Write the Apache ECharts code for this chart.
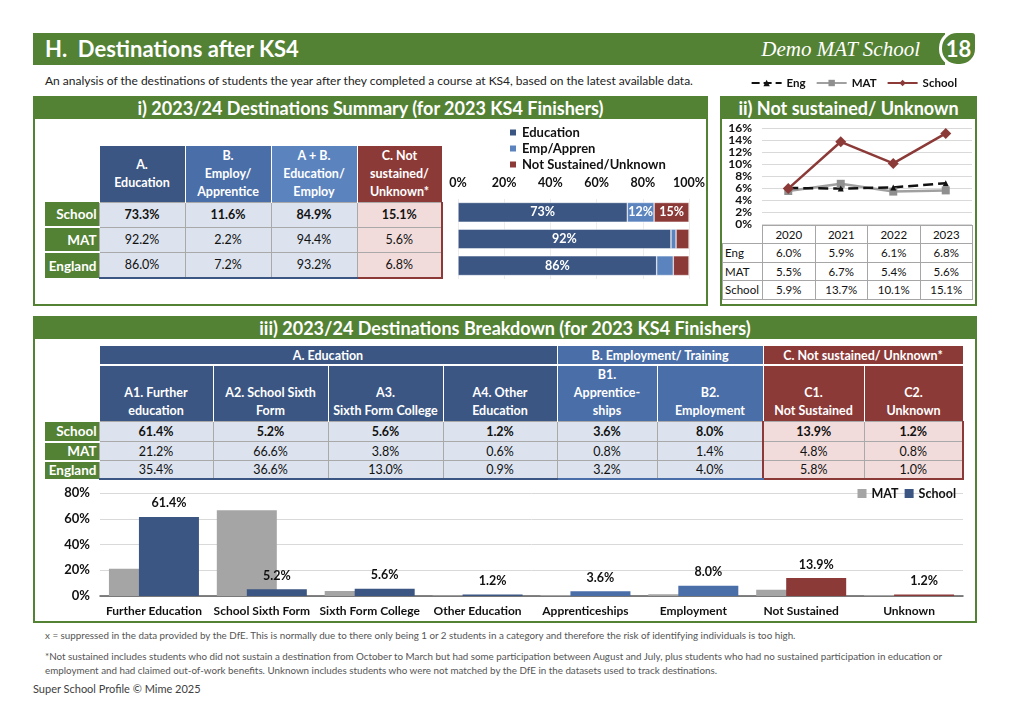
<!DOCTYPE html>
<html>
<head>
<meta charset="utf-8">
<title>Destinations after KS4</title>
<script src="https://cdn.jsdelivr.net/npm/echarts@6.0.0/dist/echarts.min.js"></script>
<style>
  body { margin:0; width:1012px; height:714px; position:relative; overflow:hidden; background:#fff; font-family:Lato, "Open Sans", sans-serif; color:#111; }
  .abs { position:absolute; }
  .banner { left:33px; top:33px; width:912px; height:32px; background:#548235; }
  .banner .t { position:absolute; left:12px; top:0; line-height:32px; color:#fff; font-weight:bold; font-size:22px; white-space:pre; }
  .banner .s { position:absolute; right:25px; top:0; line-height:32px; color:#fff; font-family:"Liberation Serif", serif; font-style:italic; font-size:21px; }
  .badge { left:939px; top:30px; width:33px; height:31px; border:3px solid #fff; background:#548235; border-radius:18px 6px 18px 18px; color:#fff; font-weight:bold; font-size:22px; text-align:center; line-height:31px; }
  .sub { left:45px; top:73px; font-size:12px; color:#222; white-space:nowrap; }
  .panel { position:absolute; box-sizing:border-box; border:2px solid #548235; background:#fff; }
  .ptitle { height:21px; background:#548235; color:#fff; font-weight:bold; font-size:18px; text-align:center; line-height:20px; white-space:nowrap; }
  table.tbl { position:absolute; border-collapse:collapse; table-layout:fixed; }
  table.tbl td { padding:0; text-align:center; overflow:hidden; white-space:nowrap; }
  td.hd { color:#fff; font-weight:bold; font-size:12.5px; line-height:18px; border-left:1px solid #fff; border-right:1px solid #fff; }
  td.lab { background:#548235; color:#fff; font-weight:bold; font-size:13.5px; text-align:right !important; padding-right:2px !important; border-top:2px solid #fff; }
  td.dat { font-size:12.5px; border:1.5px solid #a9a9a9; }
  td.bold { font-weight:bold; }
  table.trend td { border:1px solid #a6a6a6; font-size:11.5px; color:#111; }
  .note { left:45px; font-size:9.8px; color:#555; white-space:nowrap; }
</style>
</head>
<body>

<div class="abs banner"><span class="t">H.  Destinations after KS4</span><span class="s">Demo MAT School</span></div>
<div class="abs badge">18</div>
<div class="abs sub">An analysis of the destinations of students the year after they completed a course at KS4, based on the latest available data.</div>

<div class="panel" style="left:33px;top:96px;width:675px;height:210px"><div class="ptitle">i) 2023/24 Destinations Summary (for 2023 KS4 Finishers)</div></div>
<div class="panel" style="left:720px;top:96px;width:257px;height:210px"><div class="ptitle">ii) Not sustained/ Unknown</div></div>
<div class="panel" style="left:33px;top:316px;width:944px;height:307px"><div class="ptitle">iii) 2023/24 Destinations Breakdown (for 2023 KS4 Finishers)</div></div>

<div id="summaryTable"></div>
<div id="trendTable"></div>
<div id="breakdownTable"></div>

<div id="stack" class="abs" style="left:445px;top:120px;width:263px;height:170px"></div>
<div id="trend" class="abs" style="left:720px;top:70px;width:257px;height:160px"></div>
<div id="bars" class="abs" style="left:35px;top:480px;width:940px;height:142px"></div>

<div class="abs note" style="top:629px">x = suppressed in the data provided by the DfE. This is normally due to there only being 1 or 2 students in a category and therefore the risk of identifying individuals is too high.</div>
<div class="abs note" style="top:650px">*Not sustained includes students who did not sustain a destination from October to March but had some participation between August and July, plus students who had no sustained participation in education or</div>
<div class="abs note" style="top:664px">employment and had claimed out-of-work benefits. Unknown includes students who were not matched by the DfE in the datasets used to track destinations.</div>
<div class="abs" style="left:33px;top:682px;font-size:11px;color:#404040">Super School Profile © Mime 2025</div>

<script>
// ---- data ----
const rowNames = ['School', 'MAT', 'England'];
const summaryHeads = ['A.\nEducation', 'B.\nEmploy/\nApprentice', 'A + B.\nEducation/\nEmploy', 'C. Not\nsustained/\nUnknown*'];
const summaryEdu = [73.3, 92.2, 86.0];
const summaryEmp = [11.6, 2.2, 7.2];
const summaryEduEmp = [84.9, 94.4, 93.2];
const summaryNotSust = [15.1, 5.6, 6.8];
const stackNames = ['Education', 'Emp/Appren', 'Not Sustained/Unknown'];

const years = ['2020', '2021', '2022', '2023'];
const trendNames = ['Eng', 'MAT', 'School'];
const engTrend = [6.0, 5.9, 6.1, 6.8];
const matTrend = [5.5, 6.7, 5.4, 5.6];
const schoolTrend = [5.9, 13.7, 10.1, 15.1];

const groupHeads = ['A. Education', 'B. Employment/ Training', 'C. Not sustained/ Unknown*'];
const breakdownHeads = ['A1. Further\neducation', 'A2. School Sixth\nForm', 'A3.\nSixth Form College', 'A4. Other\nEducation',
  'B1.\nApprentice-\nships', 'B2.\nEmployment', 'C1.\nNot Sustained', 'C2.\nUnknown'];
const breakdownGroup = ['A', 'A', 'A', 'A', 'B', 'B', 'C', 'C'];
const breakdownSchool = [61.4, 5.2, 5.6, 1.2, 3.6, 8.0, 13.9, 1.2];
const breakdownMat = [21.2, 66.6, 3.8, 0.6, 0.8, 1.4, 4.8, 0.8];
const breakdownEng = [35.4, 36.6, 13.0, 0.9, 3.2, 4.0, 5.8, 1.0];
const chartCats = ['Further Education', 'School Sixth Form', 'Sixth Form College', 'Other Education',
  'Apprenticeships', 'Employment', 'Not Sustained', 'Unknown'];

// ---- colours ----
const navy = '#3b5683', midBlue = '#4a6ea8', lightBlue = '#5b84bf', red = '#8c3a38', green = '#548235';
const blueCell = '#dce3ee', pinkCell = '#f2dcdb';
const groupColor = { A: navy, B: midBlue, C: red };

function pct(v) { return v.toFixed(1) + '%'; }
function br(s) { return s.replace(/\n/g, '<br>'); }

// summary table
(function () {
  const cols = [summaryEdu, summaryEmp, summaryEduEmp, summaryNotSust];
  const heads = [navy, midBlue, lightBlue, red];
  const widths = [86, 86, 86, 85];
  let h = '<table class="tbl" style="left:45px;top:146px"><colgroup><col style="width:54px">';
  widths.forEach(w => h += '<col style="width:' + w + 'px">');
  h += '</colgroup><tr style="height:56px"><td></td>';
  summaryHeads.forEach((t, i) => h += '<td class="hd" style="background:' + heads[i] + '">' + br(t) + '</td>');
  h += '</tr>';
  rowNames.forEach((r, ri) => {
    h += '<tr style="height:' + (ri === 2 ? 26 : 25) + 'px"><td class="lab"' + (ri === 0 ? ' style="border-top:none"' : '') + '>' + r + '</td>';
    cols.forEach((c, ci) => {
      let st = 'background:' + (ci === 3 ? pinkCell : blueCell) + ';';
      if (ri === 2) st += 'border-bottom:2px solid ' + (ci === 3 ? red : navy) + ';';
      if (ci === 3) st += 'border-right:2px solid ' + red + ';';
      h += '<td class="dat' + (ri === 0 ? ' bold' : '') + '" style="' + st + '">' + pct(c[ri]) + '</td>';
    });
    h += '</tr>';
  });
  document.getElementById('summaryTable').innerHTML = h + '</table>';
})();

// trend table
(function () {
  const series = [engTrend, matTrend, schoolTrend];
  let h = '<table class="tbl trend" style="left:722px;top:225px"><colgroup><col style="width:40px">';
  years.forEach(() => h += '<col style="width:52.5px">');
  h += '</colgroup><tr style="height:18px"><td style="border-top:none;border-left:none"></td>';
  years.forEach(y => h += '<td>' + y + '</td>');
  h += '</tr>';
  trendNames.forEach((n, i) => {
    h += '<tr style="height:18.5px"><td style="text-align:left;padding-left:2px">' + n + '</td>';
    series[i].forEach(v => h += '<td>' + pct(v) + '</td>');
    h += '</tr>';
  });
  document.getElementById('trendTable').innerHTML = h + '</table>';
})();

// breakdown table
(function () {
  const widths = [114, 115, 115, 114, 100, 106, 101, 99];
  const rows = [breakdownSchool, breakdownMat, breakdownEng];
  let h = '<table class="tbl" style="left:45px;top:346px"><colgroup><col style="width:54px">';
  widths.forEach(w => h += '<col style="width:' + w + 'px">');
  h += '</colgroup><tr style="height:19px"><td></td>';
  ['A', 'B', 'C'].forEach((g, gi) => {
    const span = breakdownGroup.filter(x => x === g).length;
    h += '<td class="hd" colspan="' + span + '" style="background:' + groupColor[g] + ';border-bottom:2px solid #fff;line-height:17px">' + groupHeads[gi] + '</td>';
  });
  h += '</tr><tr style="height:53px"><td></td>';
  breakdownHeads.forEach((t, i) => h += '<td class="hd" style="background:' + groupColor[breakdownGroup[i]] + ';vertical-align:bottom;padding-bottom:1px;font-size:12.5px">' + br(t) + '</td>');
  h += '</tr>';
  rowNames.forEach((r, ri) => {
    h += '<tr style="height:' + [20, 19, 18][ri] + 'px"><td class="lab"' + (ri === 0 ? ' style="border-top:none"' : '') + '>' + r + '</td>';
    rows[ri].forEach((v, ci) => {
      const g = breakdownGroup[ci];
      let st = 'background:' + (g === 'C' ? pinkCell : blueCell) + ';';
      if (ri === 2) st += 'border-bottom:2px solid ' + groupColor[g] + ';';
      if (ci === 7) st += 'border-right:2px solid ' + red + ';';
      if (ci === 6) st += 'border-left:2px solid ' + red + ';';
      h += '<td class="dat' + (ri === 0 ? ' bold' : '') + '" style="' + st + 'font-size:12.5px">' + pct(v) + '</td>';
    });
    h += '</tr>';
  });
  document.getElementById('breakdownTable').innerHTML = h + '</table>';
})();

const boldText = { fontFamily: 'Lato', fontWeight: 'bold', color: '#111' };

// stacked summary bars
let stack_chart = echarts.init(document.getElementById('stack'));
function stackLabel(p) { return p.value >= 10 ? Math.round(p.value) + '%' : ''; }
stack_chart.setOption({
  animation: false,
  legend: {
    orient: 'vertical', left: 58, top: 1, icon: 'rect', itemWidth: 8, itemHeight: 8, itemGap: 3,
    textStyle: Object.assign({ fontSize: 13 }, boldText)
  },
  grid: { left: 13, right: 15, top: 79, bottom: 11 },
  xAxis: {
    type: 'value', min: 0, max: 100, interval: 20, position: 'top',
    axisLabel: Object.assign({ formatter: '{value}%', fontSize: 12.5, margin: 10 }, boldText),
    axisLine: { show: false }, axisTick: { show: false },
    splitLine: { lineStyle: { color: '#ececec' } }
  },
  yAxis: { type: 'category', inverse: true, data: rowNames, show: false },
  series: [summaryEdu, summaryEmp, summaryNotSust].map((d, i) => ({
    name: stackNames[i], type: 'bar', stack: 'all', data: d, barCategoryGap: '26%',
    itemStyle: { color: [navy, lightBlue, red][i], borderColor: '#fff', borderWidth: 0.5 },
    label: { show: true, position: 'inside', color: '#fff', fontFamily: 'Lato', fontWeight: 'bold', fontSize: 12.5, formatter: stackLabel }
  }))
});

// not sustained trend
let trend_chart = echarts.init(document.getElementById('trend'));
trend_chart.setOption({
  animation: false,
  legend: {
    data: trendNames, top: 2, right: 15, itemWidth: 30, itemHeight: 8, itemGap: 10,
    textStyle: Object.assign({ fontSize: 11.5 }, boldText)
  },
  grid: { left: 42, right: 5, top: 58, bottom: 6 },
  xAxis: { type: 'category', data: years, show: false },
  yAxis: {
    type: 'value', min: 0, max: 16, interval: 2,
    axisLabel: Object.assign({ formatter: '{value}%', fontSize: 12, margin: 10 }, boldText),
    axisLine: { show: false }, axisTick: { show: false },
    splitLine: { lineStyle: { color: '#d9d9d9' } }
  },
  series: [
    { name: 'MAT', type: 'line', data: matTrend, symbol: 'rect', symbolSize: 8,
      lineStyle: { color: '#a0a0a0', width: 2.5 }, itemStyle: { color: '#8f8f8f' } },
    { name: 'Eng', type: 'line', data: engTrend, symbol: 'triangle', symbolSize: 6,
      lineStyle: { color: '#111', width: 2.5, type: 'dashed' }, itemStyle: { color: '#111' } },
    { name: 'School', type: 'line', data: schoolTrend, symbol: 'diamond', symbolSize: 11,
      lineStyle: { color: red, width: 2.5 }, itemStyle: { color: red } }
  ]
});

// breakdown bars
let bars_chart = echarts.init(document.getElementById('bars'));
bars_chart.setOption({
  animation: false,
  legend: {
    data: ['MAT', 'School'], right: 14, top: 2, icon: 'rect', itemWidth: 9, itemHeight: 9, itemGap: 6,
    textStyle: Object.assign({ fontSize: 12.5 }, boldText)
  },
  grid: { left: 65, right: 12, top: 13, bottom: 26 },
  xAxis: {
    type: 'category', data: chartCats,
    axisLabel: Object.assign({ fontSize: 12, interval: 0, margin: 9 }, boldText),
    axisTick: { show: false }, axisLine: { lineStyle: { color: '#595959', width: 1.5 } }
  },
  yAxis: {
    type: 'value', min: 0, max: 80, interval: 20,
    axisLabel: Object.assign({ formatter: '{value}%', fontSize: 13, margin: 10 }, boldText),
    axisLine: { show: false }, axisTick: { show: false },
    splitLine: { lineStyle: { color: '#d9d9d9' } }
  },
  series: [
    { name: 'MAT', type: 'bar', data: breakdownMat, barWidth: 60, barGap: '-50%', itemStyle: { color: '#a5a5a5' } },
    { name: 'School', type: 'bar', barWidth: 60, barGap: '-50%', itemStyle: { color: navy },
      data: breakdownSchool.map((v, i) => ({ value: v, itemStyle: { color: groupColor[breakdownGroup[i]] } })),
      label: { show: true, position: 'top', distance: 7, fontFamily: 'Lato', fontWeight: 'bold', fontSize: 12.5, color: '#111',
        formatter: p => pct(p.value) } }
  ]
});
</script>
</body>
</html>
